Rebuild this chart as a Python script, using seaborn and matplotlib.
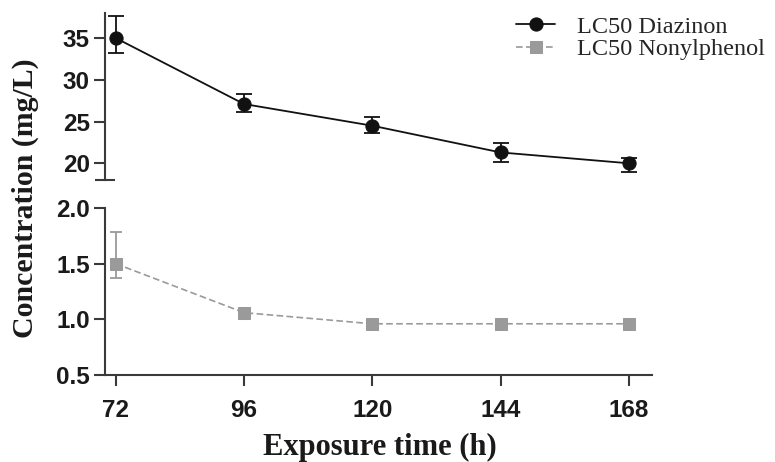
import matplotlib
matplotlib.use('Agg')
import matplotlib.pyplot as plt
import seaborn as sns
import pandas as pd

# values
hours = [72, 96, 120, 144, 168]
diaz_lc50 = [35.0, 27.1, 24.5, 21.3, 20.0]
diaz_lo = [33.2, 26.1, 23.6, 20.1, 19.0]
diaz_hi = [37.6, 28.3, 25.5, 22.4, 20.6]
nonyl_lc50 = [1.50, 1.06, 0.96, 0.96, 0.96]
nonyl_lo = [1.37, 1.06, 0.96, 0.96, 0.96]
nonyl_hi = [1.78, 1.06, 0.96, 0.96, 0.96]
top_ticks = [20, 25, 30, 35]
bottom_ticks = [0.5, 1.0, 1.5, 2.0]
series_names = ['LC50 Diazinon', 'LC50 Nonylphenol']

sns.set_theme(style='ticks')
plt.rcParams['font.family'] = ['Liberation Sans', 'DejaVu Sans']
plt.rcParams['font.weight'] = 'bold'

axis_col = '#3a3a3a'
dark = '#111111'
grey = '#9a9a9a'

fig = plt.figure(figsize=(7.75, 4.62), dpi=100)
# broken y axis: two stacked panels
ax1 = fig.add_axes([105 / 775, 1 - 180 / 462, 547 / 775, 167 / 462])
ax2 = fig.add_axes([105 / 775, 1 - 375 / 462, 547 / 775, 167 / 462])

df_d = pd.DataFrame({'time': hours, 'conc': diaz_lc50})
df_n = pd.DataFrame({'time': hours, 'conc': nonyl_lc50})

err_d = [[m - l for m, l in zip(diaz_lc50, diaz_lo)], [h - m for m, h in zip(diaz_lc50, diaz_hi)]]
err_n = [[m - l for m, l in zip(nonyl_lc50, nonyl_lo)], [h - m for m, h in zip(nonyl_lc50, nonyl_hi)]]

ax1.errorbar(hours, diaz_lc50, yerr=err_d, fmt='none', ecolor=dark,
             elinewidth=1.3, capsize=6, capthick=1.3, zorder=2, clip_on=False)
sns.lineplot(data=df_d, x='time', y='conc', ax=ax1, color=dark, marker='o',
             markersize=9.5, markeredgecolor=dark, linewidth=1.3, zorder=3,
             legend=False, clip_on=False)
line_d = ax1.get_lines()[-1]

ax2.errorbar(hours, nonyl_lc50, yerr=err_n, fmt='none', ecolor=grey,
             elinewidth=1.3, capsize=4.5, capthick=1.3, zorder=2, clip_on=False)
sns.lineplot(data=df_n, x='time', y='conc', ax=ax2, color=grey, marker='s',
             markersize=8, markeredgecolor=grey, linewidth=1.2,
             linestyle=(0, (4, 2)), zorder=3, legend=False, clip_on=False)
line_n = ax2.get_lines()[-1]

for ax in (ax1, ax2):
    ax.set_xlim(70, 172.3)
    ax.set_xlabel('')
    ax.set_ylabel('')
    ax.spines['top'].set_visible(False)
    ax.spines['right'].set_visible(False)
    ax.spines['left'].set_color(axis_col)
    ax.spines['left'].set_linewidth(1.5)
    ax.tick_params(axis='both', length=8, width=1.5, color=axis_col,
                   labelsize=17.5, labelcolor='#1a1a1a')
    ax.tick_params(axis='y', pad=3)
    ax.tick_params(axis='x', pad=9)

ax1.set_ylim(18, 38)
ax1.set_yticks(top_ticks)
ax1.set_yticklabels([str(t) for t in top_ticks])
ax1.spines['bottom'].set_visible(False)
ax1.tick_params(axis='x', bottom=False, labelbottom=False)
# small cross mark at the break
ax1.plot([0], [0], marker='_', ms=14, mew=1.5, color=axis_col,
         transform=ax1.transAxes, clip_on=False)

ax2.set_ylim(0.5, 2.0)
ax2.set_yticks(bottom_ticks)
ax2.set_yticklabels([f'{t:.1f}' for t in bottom_ticks])
ax2.set_xticks(hours)
ax2.set_xticklabels([str(h) for h in hours])
ax2.spines['bottom'].set_color(axis_col)
ax2.spines['bottom'].set_linewidth(1.5)

fig.text(380 / 775, 1 - 455 / 462, 'Exposure time (h)', ha='center', va='baseline',
         fontsize=22, fontweight='bold', family=['Liberation Serif', 'DejaVu Serif'],
         color='#1a1a1a')
fig.text(25 / 775, 1 - 198 / 462, 'Concentration (mg/L)', ha='center', va='center',
         rotation=90, fontsize=21.5, fontweight='bold',
         family=['Liberation Serif', 'DejaVu Serif'], color='#1a1a1a')

fig.legend(handles=[line_d, line_n], labels=series_names, loc='upper right',
           bbox_to_anchor=(0.987, 0.966), frameon=False,
           prop={'family': 'Liberation Serif', 'size': 17.5, 'weight': 'normal'},
           handlelength=1.6, handletextpad=0.9, labelspacing=0.02,
           borderaxespad=0, borderpad=0)

fig.savefig('out.png', dpi=100)
